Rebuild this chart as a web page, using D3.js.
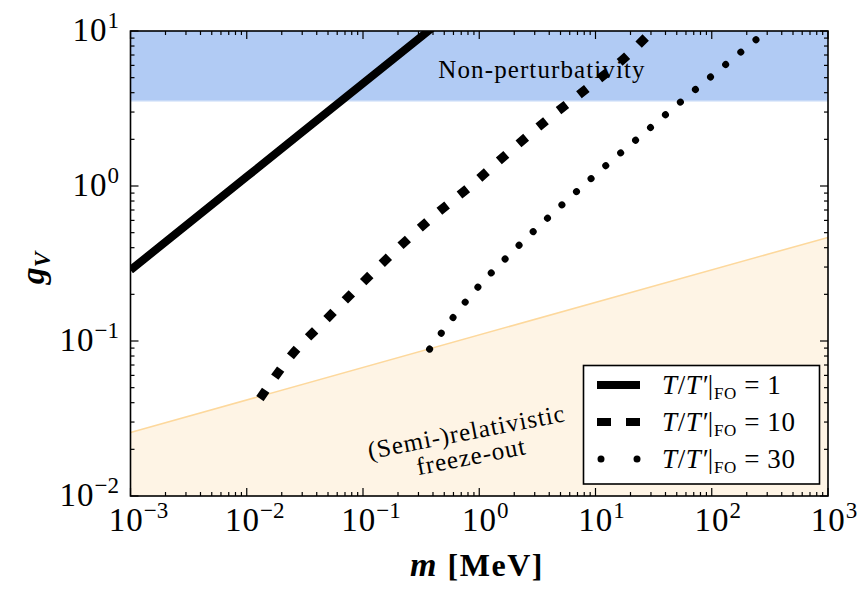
<!DOCTYPE html>
<html><head><meta charset="utf-8">
<script src="https://cdn.jsdelivr.net/npm/d3@7"></script>
<style>
body{margin:0;background:#fff;}
svg{display:block;}
text{font-family:"Liberation Serif","DejaVu Serif",serif;fill:#000;}
</style></head>
<body><svg id="chart" width="866" height="596"></svg>
<script>
// ---------- data ----------
const xDomain = [1e-3, 1e3];
const yDomain = [1e-2, 1e1];
const xTickExps = [-3, -2, -1, 0, 1, 2, 3];
const yTickExps = [-2, -1, 0, 1];

const pertLimit = 3.545; // non-perturbativity band lower edge
const relBoundaryM = [1e-3, 1e3];
const relBoundaryG = [0.0257, 0.466];

const solidM = [0.001, 0.01, 0.1, 0.5];
const solidG = [0.287, 1.148, 4.59, 12.1];

const dashedM = [0.0130, 0.0237, 0.0474, 0.0948, 0.192, 0.400, 0.853, 1.79, 3.82, 8.26, 18.6, 30.7, 34];
const dashedG = [0.0425, 0.0793, 0.136, 0.230, 0.386, 0.634, 1.01, 1.65, 2.67, 4.21, 6.90, 10.0, 10.8];

const dottedM = [0.374, 0.865, 2.03, 4.71, 11.0, 25.5, 59.8, 139, 244];
const dottedG = [0.0887, 0.201, 0.391, 0.711, 1.26, 2.16, 3.72, 6.28, 8.87];

const legendValues = ["1", "10", "30"];

// ---------- layout ----------
const svg = d3.select("#chart");
const L = 130.5, R = 828, T = 31, B = 496;
const x = d3.scaleLog().domain(xDomain).range([L, R]);
const y = d3.scaleLog().domain(yDomain).range([B, T]);

svg.append("defs").append("clipPath").attr("id","clip")
  .append("rect").attr("x",L).attr("y",T).attr("width",R-L).attr("height",B-T);

const plot = svg.append("g").attr("clip-path","url(#clip)");

// blue band
plot.append("rect").attr("x",L).attr("y",y(yDomain[1])).attr("width",R-L)
  .attr("height",y(pertLimit)-y(yDomain[1])).attr("fill","#b1cbf4");
plot.append("line").attr("x1",L).attr("x2",R).attr("y1",y(pertLimit)).attr("y2",y(pertLimit))
  .attr("stroke","#c6d9f7").attr("stroke-width",1.5);

// orange region
const relPts = relBoundaryM.map((m,i)=>[m, relBoundaryG[i]]);
const area = d3.area().x(d=>x(d[0])).y0(y(yDomain[0])).y1(d=>y(d[1]));
plot.append("path").datum(relPts).attr("d",area).attr("fill","#fef4e5");
plot.append("path").datum(relPts).attr("d",d3.line().x(d=>x(d[0])).y(d=>y(d[1])))
  .attr("fill","none").attr("stroke","#fdd89c").attr("stroke-width",1.5);

// curves
const line = d3.line().x(d=>x(d[0])).y(d=>y(d[1])).curve(d3.curveMonotoneX);
const zip = (a,b)=>a.map((v,i)=>[v,b[i]]);
plot.append("path").datum(zip(solidM,solidG)).attr("d",line)
  .attr("fill","none").attr("stroke","#000").attr("stroke-width",8);
plot.append("path").datum(zip(dashedM,dashedG)).attr("d",line)
  .attr("fill","none").attr("stroke","#000").attr("stroke-width",9)
  .attr("stroke-dasharray","10,16");
plot.append("path").datum(zip(dottedM,dottedG)).attr("d",line)
  .attr("fill","none").attr("stroke","#000").attr("stroke-width",7)
  .attr("stroke-linecap","round").attr("stroke-dasharray","0.01,19.6");

// annotations
svg.append("text").attr("x",542).attr("y",78).attr("text-anchor","middle")
  .attr("font-size",25).attr("letter-spacing",1.1).text("Non-perturbativity");
const ann = svg.append("text").attr("transform","translate(468,440) rotate(-11)")
  .attr("text-anchor","middle").attr("font-size",25).attr("letter-spacing",1);
ann.append("tspan").attr("x",0).attr("y",0).text("(Semi-)relativistic");
ann.append("tspan").attr("x",0).attr("y",25).text("freeze-out");

// ticks (inward, all sides)
const tk = svg.append("g").attr("stroke","#000").attr("stroke-width",1.2);
const minors = (lo,hi)=>{const r=[];for(let e=lo;e<hi;e++)for(let k=2;k<10;k++)r.push(k*Math.pow(10,e));return r;};
xTickExps.forEach(e=>{const px=x(Math.pow(10,e));
  tk.append("line").attr("x1",px).attr("x2",px).attr("y1",B).attr("y2",B-8);
  tk.append("line").attr("x1",px).attr("x2",px).attr("y1",T).attr("y2",T+8);});
minors(-3,3).forEach(v=>{const px=x(v);
  tk.append("line").attr("x1",px).attr("x2",px).attr("y1",B).attr("y2",B-4);
  tk.append("line").attr("x1",px).attr("x2",px).attr("y1",T).attr("y2",T+4);});
yTickExps.forEach(e=>{const py=y(Math.pow(10,e));
  tk.append("line").attr("y1",py).attr("y2",py).attr("x1",L).attr("x2",L+8);
  tk.append("line").attr("y1",py).attr("y2",py).attr("x1",R).attr("x2",R-8);});
minors(-2,1).forEach(v=>{const py=y(v);
  tk.append("line").attr("y1",py).attr("y2",py).attr("x1",L).attr("x2",L+4);
  tk.append("line").attr("y1",py).attr("y2",py).attr("x1",R).attr("x2",R-4);});

// frame
svg.append("rect").attr("x",L).attr("y",T).attr("width",R-L).attr("height",B-T)
  .attr("fill","none").attr("stroke","#000").attr("stroke-width",1.6);

// tick labels
function powLabel(sel, e){
  sel.append("tspan").attr("letter-spacing",1).text("10");
  sel.append("tspan").attr("dy",-13).attr("font-size",23).text(e<0?"\u2212"+(-e):String(e));
}
xTickExps.forEach(e=>{
  const t=svg.append("text").attr("x",x(Math.pow(10,e))+ (e<0?8:6)).attr("y",531)
    .attr("text-anchor","middle").attr("font-size",33);
  powLabel(t,e);
});
yTickExps.forEach(e=>{
  const t=svg.append("text").attr("x",119).attr("y",y(Math.pow(10,e))+10)
    .attr("text-anchor","end").attr("font-size",33);
  powLabel(t,e);
});

// axis labels
const xl = svg.append("text").attr("x",477).attr("y",576).attr("text-anchor","middle")
  .attr("font-size",32).attr("font-weight","bold").attr("letter-spacing",1.5);
xl.append("tspan").attr("font-style","italic").attr("font-size",34).text("m");
xl.append("tspan").text(" [MeV]");
const yl = svg.append("text").attr("transform","translate(44,268) rotate(-90)")
  .attr("text-anchor","middle").attr("font-size",34).attr("font-weight","bold");
yl.append("tspan").attr("font-style","italic").text("g");
yl.append("tspan").attr("font-style","italic").attr("font-size",23).attr("dy",6).text("V");

// legend
const lg = svg.append("g");
lg.append("rect").attr("x",583.5).attr("y",365.5).attr("width",236).attr("height",118.5)
  .attr("fill","#fff").attr("stroke","#000").attr("stroke-width",1.6);
const styles = [
  {w:8, dash:null, cap:"butt"},
  {w:8, dash:"14,15", cap:"butt"},
  {w:7, dash:"0.01,36", cap:"round"}
];
legendValues.forEach((v,i)=>{
  const yy = 385 + i*37;
  const s = styles[i];
  const ln = lg.append("line").attr("x1", i===2?601:597).attr("x2",640).attr("y1",yy).attr("y2",yy)
    .attr("stroke","#000").attr("stroke-width",s.w).attr("stroke-linecap",s.cap);
  if(s.dash) ln.attr("stroke-dasharray",s.dash);
  const t = lg.append("text").attr("x",662).attr("y",yy+9).attr("font-size",27).attr("letter-spacing",0.6);
  t.append("tspan").attr("font-style","italic").text("T");
  t.append("tspan").text("/");
  t.append("tspan").attr("font-style","italic").text("T\u2032");
  t.append("tspan").text("|");
  t.append("tspan").attr("font-size",17).attr("dy",5).text("FO");
  t.append("tspan").attr("dy",-5).text(" = " + v);
});
</script></body></html>
